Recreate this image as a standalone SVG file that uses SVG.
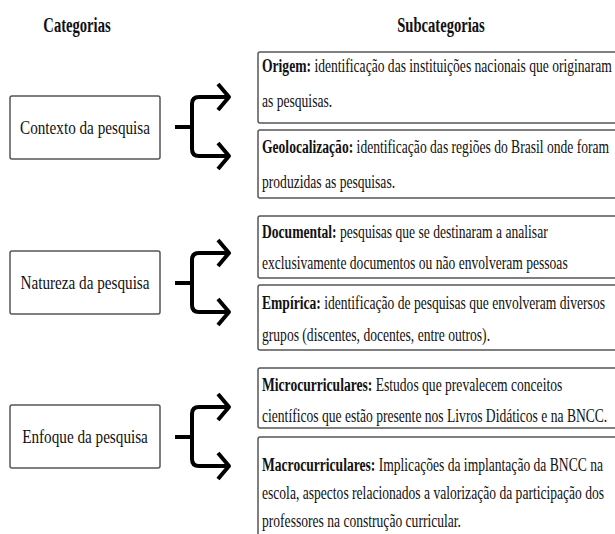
<svg xmlns="http://www.w3.org/2000/svg" width="615" height="534" viewBox="0 0 615 534">
<style>
text{font-family:"Liberation Serif","Times New Roman",serif;fill:#111}
.h{font-size:20px;font-weight:bold;text-anchor:middle}
.c{font-size:19px;text-anchor:middle}
.s{font-size:19px}
.b{font-weight:bold}
.box{fill:#fff;stroke:#555;stroke-width:1.5}
.br{fill:none;stroke:#000;stroke-width:4;stroke-linejoin:round;stroke-linecap:butt}
</style>
<defs>
<g id="bracket">
<path class="br" d="M175,0 H192"/>
<path class="br" d="M228,-30 H199 Q192,-30 192,-23 V22 Q192,29 199,29 H228"/>
<path class="br" d="M218,-43 L229,-30 L218,-17"/>
<path class="br" d="M218,16 L229,29 L218,42"/>
</g>
</defs>
<rect width="615" height="534" fill="#fff"/>
<g id="headers">
<text class="h" transform="translate(77 32) scale(0.73 1)">Categorias</text>
<text class="h" transform="translate(441 32) scale(0.73 1)">Subcategorias</text>
</g>
<g id="connectors">
<use href="#bracket" transform="translate(0 127)"/>
<use href="#bracket" transform="translate(0 283)"/>
<use href="#bracket" transform="translate(0 437)"/>
</g>
<g id="cat-contexto">
<rect class="box" x="10" y="96" width="150" height="63" rx="2"/>
<text class="c" transform="translate(85 134) scale(0.8 1)">Contexto da pesquisa</text>
</g>
<g id="cat-natureza">
<rect class="box" x="10" y="251" width="150" height="63" rx="2"/>
<text class="c" transform="translate(85 289) scale(0.8 1)">Natureza da pesquisa</text>
</g>
<g id="cat-enfoque">
<rect class="box" x="10" y="405" width="150" height="63" rx="2"/>
<text class="c" transform="translate(85 443) scale(0.8 1)">Enfoque da pesquisa</text>
</g>
<g id="sub-origem">
<rect class="box" x="258" y="52" width="370" height="71" rx="2"/>
<text class="s" transform="translate(262 72) scale(0.715 1)"><tspan class="b">Origem:</tspan> identificação das instituições nacionais que originaram</text>
<text class="s" transform="translate(262 107) scale(0.715 1)">as pesquisas.</text>
</g>
<g id="sub-geolocalizacao">
<rect class="box" x="258" y="130" width="370" height="68" rx="2"/>
<text class="s" transform="translate(262 153) scale(0.715 1)"><tspan class="b">Geolocalização:</tspan> identificação das regiões do Brasil onde foram</text>
<text class="s" transform="translate(262 188) scale(0.715 1)">produzidas as pesquisas.</text>
</g>
<g id="sub-documental">
<rect class="box" x="258" y="216" width="370" height="62" rx="2"/>
<text class="s" transform="translate(262 238) scale(0.715 1)"><tspan class="b">Documental:</tspan> pesquisas que se destinaram a analisar</text>
<text class="s" transform="translate(262 269) scale(0.715 1)">exclusivamente documentos ou não envolveram pessoas</text>
</g>
<g id="sub-empirica">
<rect class="box" x="258" y="285" width="370" height="65" rx="2"/>
<text class="s" transform="translate(262 309) scale(0.715 1)"><tspan class="b">Empírica:</tspan> identificação de pesquisas que envolveram diversos</text>
<text class="s" transform="translate(262 341) scale(0.715 1)">grupos (discentes, docentes, entre outros).</text>
</g>
<g id="sub-microcurriculares">
<rect class="box" x="258" y="368" width="370" height="60" rx="2"/>
<text class="s" transform="translate(262 391) scale(0.715 1)"><tspan class="b">Microcurriculares:</tspan> Estudos que prevalecem conceitos</text>
<text class="s" transform="translate(262 422) scale(0.715 1)">científicos que estão presente nos Livros Didáticos e na BNCC.</text>
</g>
<g id="sub-macrocurriculares">
<rect class="box" x="258" y="437" width="370" height="110" rx="2"/>
<text class="s" transform="translate(262 471) scale(0.715 1)"><tspan class="b">Macrocurriculares:</tspan> Implicações da implantação da BNCC na</text>
<text class="s" transform="translate(262 499) scale(0.715 1)">escola, aspectos relacionados a valorização da participação dos</text>
<text class="s" transform="translate(262 527) scale(0.715 1)">professores na construção curricular.</text>
</g>
</svg>
